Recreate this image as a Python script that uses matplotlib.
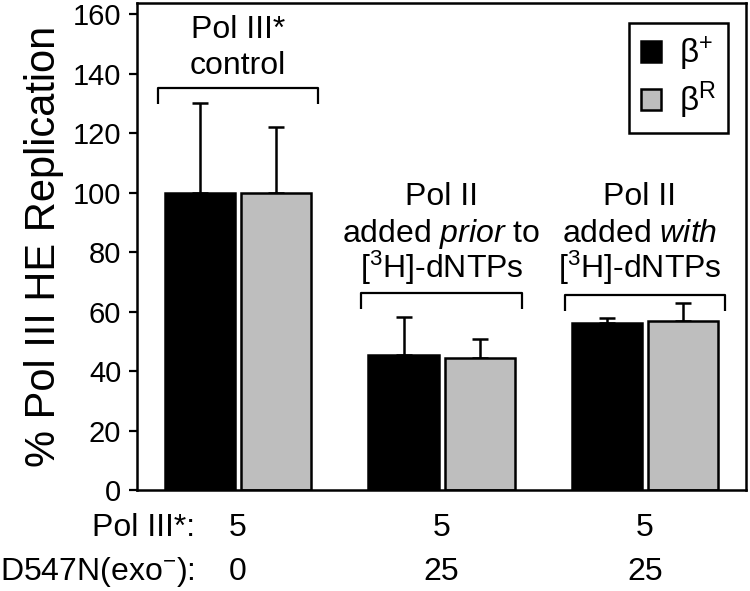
import numpy as np
import matplotlib
matplotlib.use("Agg")
import matplotlib.pyplot as plt
from matplotlib.patches import Patch

plt.rcParams["font.family"] = ["Liberation Sans", "DejaVu Sans"]
plt.rcParams["mathtext.fontset"] = "custom"
plt.rcParams["mathtext.rm"] = "Liberation Sans"
plt.rcParams["mathtext.it"] = "Liberation Sans:italic"
plt.rcParams["mathtext.bf"] = "Liberation Sans:bold"

# data
groups = ["Pol III* control", "Pol II added prior to", "Pol II added with"]
beta_plus = [100, 45.5, 56.0]
beta_plus_err = [30, 12.8, 1.7]
beta_r = [100, 44.5, 56.9]
beta_r_err = [22.0, 6.2, 5.9]
series_labels = ["β$^{+}$", "β$^{\\mathrm{R}}$"]
pol3_amount = ["5", "5", "5"]
d547n_amount = ["0", "25", "25"]
group_text = [
    ["Pol III*", "control"],
    ["Pol II", "added $\\mathit{prior}$ to", "[$^{3}$H]-dNTPs"],
    ["Pol II", "added $\\mathit{with}$", "[$^{3}$H]-dNTPs"],
]

x = np.arange(len(groups))
width = 0.345
offset = 0.187

fig = plt.figure(figsize=(7.5, 5.91), dpi=100)
ax = fig.add_axes([0.182, 0.1709, 0.8127, 0.824])

ax.errorbar(x - offset, beta_plus, yerr=[np.zeros(3), beta_plus_err],
            fmt="none", ecolor="black", elinewidth=1.8, capsize=6,
            capthick=1.8, zorder=1)
ax.errorbar(x + offset, beta_r, yerr=[np.zeros(3), beta_r_err],
            fmt="none", ecolor="black", elinewidth=1.8, capsize=6,
            capthick=1.8, zorder=1)
ax.bar(x - offset, beta_plus, width, color="black", edgecolor="black",
       linewidth=1.8, zorder=2)
ax.bar(x + offset, beta_r, width, color="#bebebe", edgecolor="black",
       linewidth=1.8, zorder=2)

# brackets above each group
bracket_y = [135.1, 66.2, 65.6]
bracket_drop = 5.3
half = 0.395
for xi, by in zip(x, bracket_y):
    ax.plot([xi - half, xi - half, xi + half, xi + half],
            [by - bracket_drop, by, by, by - bracket_drop],
            color="black", lw=1.6, solid_capstyle="butt", zorder=3)

# group text (baselines)
text_x = [0.0, 0.0, -0.025]
baselines = [[151.9, 139.8], [95.8, 83.4, 71.3], [95.8, 83.4, 71.3]]
for tx, xi, lines, bls in zip(text_x, x, group_text, baselines):
    for line, bl in zip(lines, bls):
        ax.text(xi + tx, bl, line, ha="center", va="baseline", fontsize=23)

# row labels under the axis
ax.text(-0.212, -15.6, "Pol III*:", ha="right", va="baseline", fontsize=23,
        clip_on=False)
ax.text(-0.212, -30.4, "D547N(exo$^{-}$):", ha="right", va="baseline",
        fontsize=23, clip_on=False)
for xi, a, b in zip(x, pol3_amount, d547n_amount):
    ax.text(xi, -15.6, a, ha="center", va="baseline", fontsize=23,
            clip_on=False)
    ax.text(xi, -30.4, b, ha="center", va="baseline", fontsize=23,
            clip_on=False)

ax.set_xlim(-0.499, 2.496)
ax.set_ylim(0, 163.7)
ax.set_xticks([])
ax.set_yticks(np.arange(0, 161, 20))
ax.tick_params(axis="y", direction="out", length=6, width=1.6, pad=5,
               labelsize=21)
for sp in ax.spines.values():
    sp.set_linewidth(1.8)
ax.set_ylabel("% Pol III HE Replication", fontsize=30, labelpad=6)

handles = [Patch(facecolor="black", edgecolor="black", linewidth=1.8),
           Patch(facecolor="#bebebe", edgecolor="black", linewidth=1.8)]
leg = ax.legend(handles, series_labels, loc="upper right",
                bbox_to_anchor=(0.9705, 0.959), borderaxespad=0,
                fontsize=24, handlelength=0.6, handleheight=0.6,
                handletextpad=0.55, labelspacing=0.2, borderpad=0.35,
                fancybox=False, framealpha=1, edgecolor="black")
leg.get_frame().set_linewidth(1.8)

fig.savefig("out.png", dpi=100)
